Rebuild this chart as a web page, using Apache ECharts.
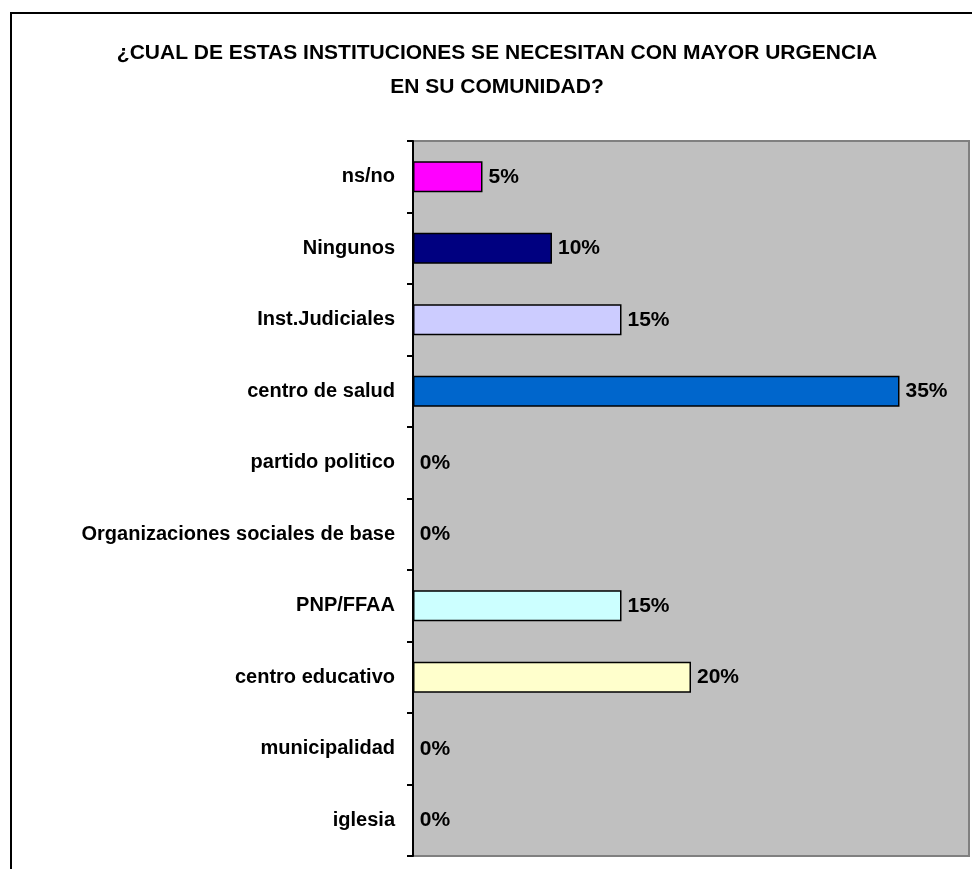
<!DOCTYPE html>
<html>
<head>
<meta charset="utf-8">
<script src="https://cdn.jsdelivr.net/npm/echarts@6/dist/echarts.min.js"></script>
<style>
html,body{margin:0;padding:0;background:#fff;}
#c{width:972px;height:869px;}
</style>
</head>
<body>
<div id="c"></div>
<script>
var categories = ["ns/no","Ningunos","Inst.Judiciales","centro de salud","partido politico","Organizaciones sociales de base","PNP/FFAA","centro educativo","municipalidad","iglesia"];
var values = [5,10,15,35,0,0,15,20,0,0];
var barColors = ["#FF00FF","#000080","#CCCCFF","#0066CC","#C0C0C0","#C0C0C0","#CCFFFF","#FFFFCC","#C0C0C0","#C0C0C0"];
var titleLines = ["¿CUAL DE ESTAS INSTITUCIONES SE NECESITAN CON MAYOR URGENCIA","EN SU COMUNIDAD?"];

var chart = echarts.init(document.getElementById('c'), null, {renderer:'canvas'});
var font = "'Liberation Sans', Arial, sans-serif";
chart.setOption({
  animation:false,
  textStyle:{fontFamily:font},
  graphic:[
    {type:'rect', shape:{x:11,y:13,width:980,height:900}, style:{fill:'none',stroke:'#000',lineWidth:2}, z:-10},
    {type:'text', style:{text:titleLines.join('\n'), x:497, y:36, textAlign:'center', fontFamily:font, fontWeight:'bold', fontSize:21, lineHeight:34, fill:'#000'}}
  ],
  grid:{left:413, top:141, right:3, bottom:13, show:true, backgroundColor:'#C0C0C0', borderColor:'#808080', borderWidth:2, containLabel:false},
  xAxis:{type:'value', min:0, max:40, show:false, splitLine:{show:false}},
  yAxis:{type:'category', data:categories, inverse:true,
    axisLine:{show:true, lineStyle:{color:'#000', width:2}},
    axisTick:{show:true, inside:false, length:6, lineStyle:{color:'#000', width:2}},
    axisLabel:{color:'#000', fontWeight:'bold', fontSize:20, margin:18, fontFamily:font},
    splitLine:{show:false}
  },
  series:[{
    type:'bar',
    data:values.map(function(v,i){return {value:v, itemStyle:{color:barColors[i]}};}),
    barWidth:31,
    itemStyle:{borderColor:'#000', borderWidth:1.5},
    label:{show:true, position:'right', distance:6, formatter:'{c}%', color:'#000', fontWeight:'bold', fontSize:21, fontFamily:font}
  }]
});
</script>
</body>
</html>
